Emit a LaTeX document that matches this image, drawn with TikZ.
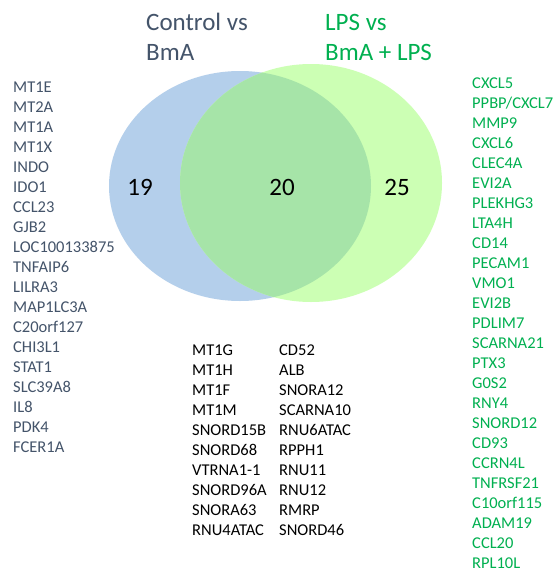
\documentclass[tikz,border=0pt]{standalone}
\usepackage{fontspec}
\setmainfont{Carlito}
\usepackage{xcolor}
\usetikzlibrary{positioning}
\definecolor{slate}{HTML}{44546A}
\definecolor{lpsgreen}{HTML}{00B050}
\definecolor{ctrlfill}{HTML}{B4CFEB}
\definecolor{lpsfill}{HTML}{CCFFB4}
\definecolor{bothfill}{HTML}{A6E4A8}
\tikzset{
  gene/.style={anchor=base west, inner sep=0pt, font=\fontsize{16.5}{20}\selectfont},
  settitle/.style={anchor=base west, inner sep=0pt, font=\fontsize{25}{30}\selectfont},
  count/.style={inner sep=0pt, font=\fontsize{25}{30}\selectfont},
  ctrlset/.style={x radius=131pt, y radius=115pt},
  lpsset/.style={x radius=131pt, y radius=119pt}
}

\begin{document}
\begin{tikzpicture}[x=1pt,y=-1pt]
\useasboundingbox[fill=white] (0,0) rectangle (556,573);
\coordinate (ctrl) at (240,186);
\coordinate (lps) at (311,183);
\fill[ctrlfill] (ctrl) ellipse [ctrlset];
\fill[lpsfill] (lps) ellipse [lpsset];
\begin{scope}
\clip (ctrl) ellipse [ctrlset];
\fill[bothfill] (lps) ellipse [lpsset];
\end{scope}

\node[settitle, slate] (ctrltitle) at (146,30) {Control vs};
\node[settitle, slate] (ctrltitleb) at (146,60) {BmA};
\node[settitle, lpsgreen] (lpstitle) at (325,30) {LPS vs};
\node[settitle, lpsgreen] (lpstitleb) at (325,60) {BmA + LPS};

\node[count] (onlyctrl) at (140,187) {19};
\node[count] (both) at (282,187) {20};
\node[count] (onlylps) at (397,187) {25};

\foreach \g [count=\i] in {MT1E,MT2A,MT1A,MT1X,INDO,IDO1,CCL23,GJB2,LOC100133875,TNFAIP6,LILRA3,MAP1LC3A,C20orf127,CHI3L1,STAT1,SLC39A8,IL8,PDK4,FCER1A}
  \node[gene, slate] (left\i) at (13,{72+20*\i}) {\g};

\foreach \g [count=\i] in {CXCL5,PPBP/CXCL7,MMP9,CXCL6,CLEC4A,EVI2A,PLEKHG3,LTA4H,CD14,PECAM1,VMO1,EVI2B,PDLIM7,SCARNA21,PTX3,G0S2,RNY4,SNORD12,CD93,CCRN4L,TNFRSF21,C10orf115,ADAM19,CCL20,RPL10L}
  \node[gene, lpsgreen] (right\i) at (472,{68+20*\i}) {\g};

\foreach \g [count=\i] in {MT1G,MT1H,MT1F,MT1M,SNORD15B,SNORD68,VTRNA1-1,SNORD96A,SNORA63,RNU4ATAC}
  \node[gene] (mida\i) at (192,{335+20*\i}) {\g};

\foreach \g [count=\i] in {CD52,ALB,SNORA12,SCARNA10,RNU6ATAC,RPPH1,RNU11,RNU12,RMRP,SNORD46}
  \node[gene] (midb\i) at (279,{335+20*\i}) {\g};
\end{tikzpicture}
\end{document}
